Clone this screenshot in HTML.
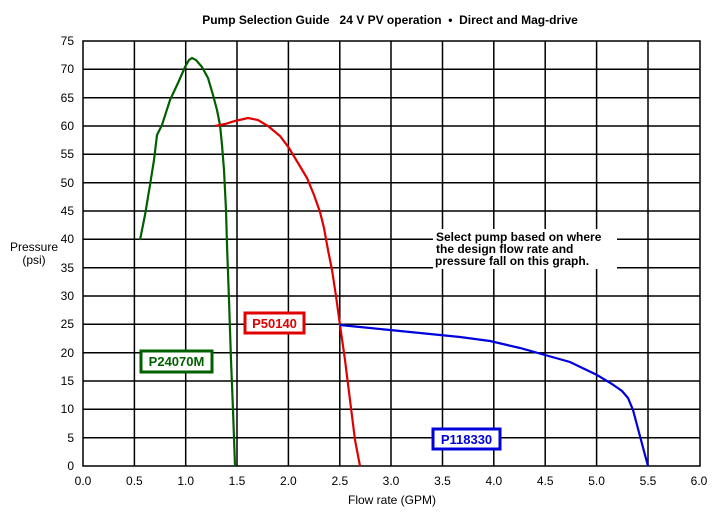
<!DOCTYPE html>
<html><head><meta charset="utf-8"><style>
body{margin:0;background:#fff;}
svg{display:block;font-family:"Liberation Sans",sans-serif;}
</style></head><body>
<svg width="719" height="521" viewBox="0 0 719 521" xmlns="http://www.w3.org/2000/svg">
<rect width="719" height="521" fill="#fff"/>
<text x="390" y="24" font-size="12" font-weight="bold" text-anchor="middle" style="white-space:pre">Pump Selection Guide   24 V PV operation  •  Direct and Mag-drive</text>
<g stroke="#000" stroke-width="1.5" fill="none">
<rect x="83" y="41" width="617" height="425"/>
<path d="M134.4 41V466M185.7 41V466M237 41V466M288.4 41V466M339.8 41V466M391 41V466M442.5 41V466M493.8 41V466M545.2 41V466M596.6 41V466M648 41V466"/>
<path d="M83 69.3H700M83 97.7H700M83 126H700M83 154.3H700M83 182.7H700M83 211H700M83 239.3H700M83 267.7H700M83 296H700M83 324.3H700M83 352.7H700M83 381H700M83 409.3H700M83 437.7H700"/>
</g>
<g font-size="12" text-anchor="end">
<text x="74" y="45">75</text><text x="74" y="73">70</text><text x="74" y="102">65</text><text x="74" y="130">60</text><text x="74" y="158">55</text><text x="74" y="187">50</text><text x="74" y="215">45</text><text x="74" y="243">40</text><text x="74" y="272">35</text><text x="74" y="300">30</text><text x="74" y="328">25</text><text x="74" y="357">20</text><text x="74" y="385">15</text><text x="74" y="413">10</text><text x="74" y="442">5</text><text x="74" y="470">0</text>
</g>
<g font-size="12" text-anchor="middle">
<text x="83" y="485">0.0</text><text x="134.4" y="485">0.5</text><text x="185.7" y="485">1.0</text><text x="237" y="485">1.5</text><text x="288.4" y="485">2.0</text><text x="339.8" y="485">2.5</text><text x="391" y="485">3.0</text><text x="442.5" y="485">3.5</text><text x="493.8" y="485">4.0</text><text x="545.2" y="485">4.5</text><text x="596.6" y="485">5.0</text><text x="648" y="485">5.5</text><text x="699" y="485">6.0</text>
<text x="392" y="504">Flow rate (GPM)</text>
<text x="34" y="251">Pressure</text><text x="34" y="264">(psi)</text>
</g>
<rect x="433" y="229" width="184" height="40" fill="#fff"/>
<g font-size="12" font-weight="bold"><text x="436" y="241">Select pump based on where</text><text x="436" y="253">the design flow rate and</text><text x="435" y="265">pressure fall on this graph.</text></g>
<polyline fill="none" stroke="#006000" stroke-width="2.2" points="140,240 145,215 150,185 154,160 157,135 162,125 170,100 178,83 185,67 189,60 192,58 196,60 202,67 208,78 213,95 217,110 220,125 222,145 224,170 226,210 227,245 229,300 231,360 233,410 235,466"/>
<polyline fill="none" stroke="#e00000" stroke-width="2.2" points="215,126 225,124 235,121 248,118 258,120 268,126 280,136 289,148 298,163 307,178 314,195 320,212 324,228 328,250 332,270 336,296 340,325 345,360 350,400 355,440 360,466"/>
<polyline fill="none" stroke="#0000dd" stroke-width="2.2" points="340,325 360,327 390,330 430,334 460,337 490,341 520,348 545,355 570,362 597,375 612,384 622,391 628,398 633,410 637,425 641,440 645,455 648,466"/>
<rect x="245" y="313" width="59" height="20" fill="#fff" stroke="#e00000" stroke-width="3"/>
<text x="274.5" y="328" font-size="13" font-weight="bold" fill="#e00000" text-anchor="middle">P50140</text>
<rect x="141" y="351" width="71" height="21" fill="#fff" stroke="#006000" stroke-width="3"/>
<text x="176.5" y="366" font-size="13" font-weight="bold" fill="#006000" text-anchor="middle">P24070M</text>
<rect x="433" y="429" width="67" height="20" fill="#fff" stroke="#0000dd" stroke-width="3"/>
<text x="466.5" y="444" font-size="13" font-weight="bold" fill="#0000dd" text-anchor="middle">P118330</text>
</svg>
</body></html>
